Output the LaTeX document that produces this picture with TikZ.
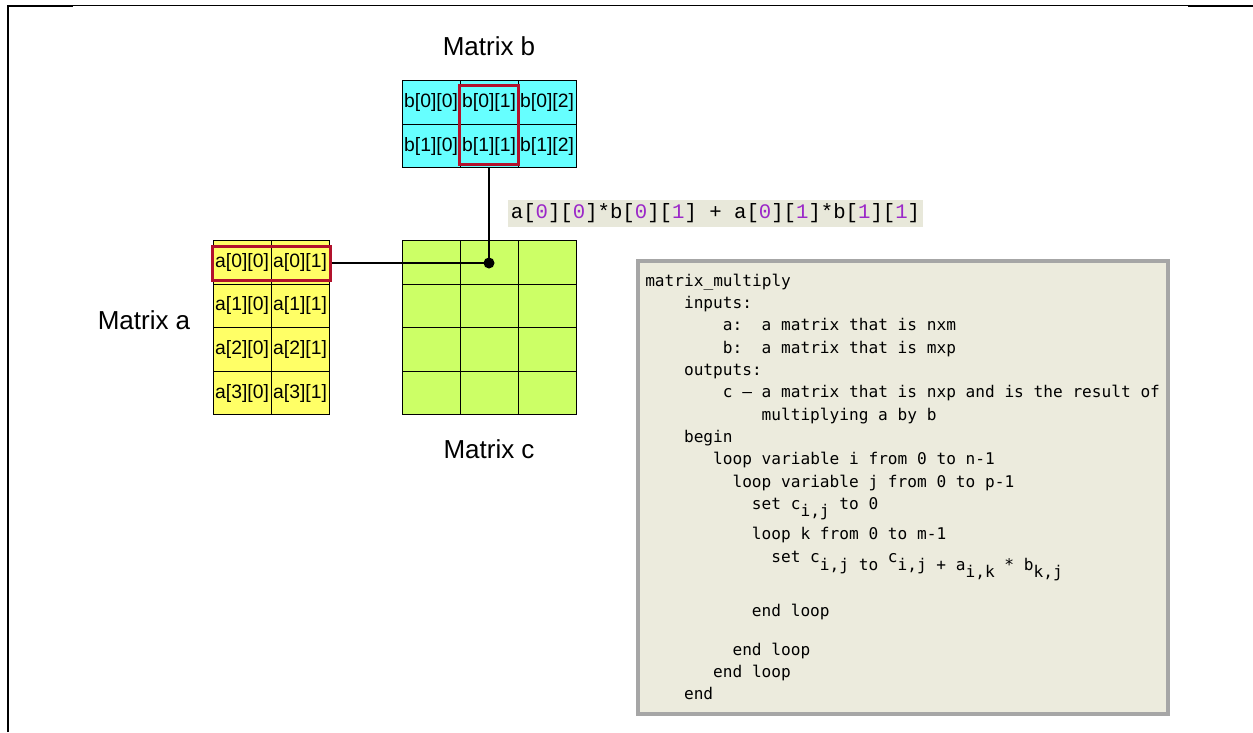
\documentclass[tikz,border=0pt]{standalone}
\usepackage{fontspec}
\setmainfont{Liberation Sans}
\newfontfamily\codefont{DejaVu Sans Mono}
\newfontfamily\sumfont{Liberation Mono}

\newlength{\du}
\setlength{\du}{0.75pt}

\definecolor{acolor}{RGB}{255,255,102}
\definecolor{bcolor}{RGB}{102,255,255}
\definecolor{ccolor}{RGB}{204,255,102}
\definecolor{hilitecolor}{RGB}{178,18,44}
\definecolor{papercolor}{RGB}{236,235,221}
\definecolor{sumcolor}{RGB}{232,232,218}
\definecolor{edgecolor}{RGB}{166,166,166}
\definecolor{digitcolor}{RGB}{155,40,200}

\newcommand{\pdig}[1]{\textcolor{digitcolor}{#1}}
\newcommand{\codeup}[1]{\raisebox{6pt}{#1}}
\newcommand{\codedn}[1]{\raisebox{-5.25pt}{#1}}

\tikzset{
  cell/.style={draw=black, line width=1\du, minimum width=58\du, minimum height=43.6\du,
    inner sep=0pt, font=\fontsize{14.5}{17}\selectfont},
  acell/.style={cell, fill=acolor},
  bcell/.style={cell, fill=bcolor},
  ccell/.style={cell, fill=ccolor},
  hilite/.style={draw=hilitecolor, line width=3\du, inner sep=0pt},
  title/.style={font=\fontsize{19.5}{23}\selectfont},
  codeline/.style={anchor=mid west, inner sep=0pt, font=\codefont\fontsize{12.1}{14}\selectfont},
  link/.style={draw=black, line width=1.1\du},
}

\begin{document}
\begin{tikzpicture}[x=1\du, y=-1\du]
\useasboundingbox (0,0) rectangle (1253,732);

% frame
\draw[line width=2\du] (8.3,732) -- (8.3,5.7) -- (73,5.7);
\draw[line width=1\du] (73,5.3) -- (1188,5.3);
\draw[line width=2\du] (1188,5.7) -- (1253,5.7);

% matrix b
\foreach \r in {0,1}
  \foreach \c in {0,1,2}
    \node[bcell] (b-\r-\c) at (431+58*\c, 102.25+43.75*\r) {b[\r][\c]};
\node[hilite, minimum width=59\du, minimum height=79\du] (bsel) at (488.5,124.5) {};
\node[title] (titleb) at (489,46) {Matrix b};

% matrix a
\foreach \r in {0,1,2,3}
  \foreach \c in {0,1}
    \node[acell] (a-\r-\c) at (242+58*\c, 262.3+43.6*\r) {a[\r][\c]};
\node[hilite, minimum width=118\du, minimum height=34\du] (asel) at (271,263) {};
\node[title] (titlea) at (144,320) {Matrix a};

% matrix c
\foreach \r in {0,1,2,3}
  \foreach \c in {0,1,2}
    \node[ccell] (c-\r-\c) at (431+58*\c, 262.3+43.6*\r) {};
\node[title] (titlec) at (489,449) {Matrix c};

% links
\coordinate (dot) at (489,263);
\draw[link] (b-1-1.south) -- (dot);
\draw[link] (asel.east) -- (dot);
\fill (dot) circle (5.5\du);

% sum
\node[fill=sumcolor, minimum width=415\du, minimum height=27\du, inner sep=0pt,
  font=\sumfont\fontsize{15.5}{18}\selectfont] (sum) at (715.5,213.5)
  {a[\pdig{0}][\pdig{0}]*b[\pdig{0}][\pdig{1}] + a[\pdig{0}][\pdig{1}]*b[\pdig{1}][\pdig{1}]};

% algorithm
\node[draw=edgecolor, fill=papercolor, line width=4\du, minimum width=530\du,
  minimum height=453\du, inner sep=0pt] (algo) at (903,487.5) {};
\foreach \ind/\yy/\txt [count=\n] in {
    0/282.5/{matrix\_multiply},
    4/304.5/{inputs:},
    8/327/{a:\ \ a matrix that is nxm},
    8/349.5/{b:\ \ a matrix that is mxp},
    4/372/{outputs:},
    8/394/{c – a matrix that is nxp and is the result of},
    12/416.5/{multiplying a by b},
    4/439/{begin},
    7/461/{loop variable i from 0 to n-1},
    9/483.5/{loop variable j from 0 to p-1},
    11/505.5/{set c\codedn{i,j} to 0},
    11/535.5/{loop k from 0 to m-1},
    13/567/{\codeup{set c}i,j to \codeup{c}i,j + a\codedn{i,k} * b\codedn{k,j}},
    11/613/{end loop},
    9/651.5/{end loop},
    7/674/{end loop},
    4/696/{end}}
  \node[codeline] (line\n) at (645+9.7*\ind, \yy) {\txt};
\end{tikzpicture}
\end{document}
